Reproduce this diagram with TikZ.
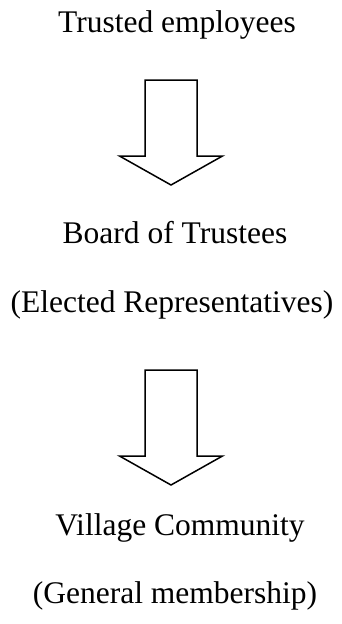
\documentclass[tikz,border=0pt]{standalone}
\usepackage{fontspec}
\setmainfont{Liberation Serif}
\usetikzlibrary{positioning}
\tikzstyle{lbl}=[anchor=base, inner sep=0pt, font=\fontsize{31.5}{37}\selectfont]
\tikzstyle{blk} = [draw, line width=1.5pt, line join=miter]
% block arrow pointing down: shaft 52 wide, head 103 wide and 29 long
\newcommand{\downblock}[2]{%
    \draw[blk] (#1) ++(-26,0) -- ++(0,#2) -- ++(-25.5,0) -- ++(51.5,29)
        -- ++(51.5,-29) -- ++(-25.5,0) -- ++(0,-#2) -- cycle;}

\begin{document}
\begin{tikzpicture}[x=1pt, y=-1pt]
    \useasboundingbox (0,0) rectangle (342,624);
    \node [lbl](trusted) at (177,32) {Trusted employees};
    \coordinate (down1) at (171,80);
    \downblock{down1}{76}
    \node [lbl](board) at (175,243) {Board of Trustees};
    \node [lbl](elected) at (172,312) {(Elected Representatives)};
    \coordinate (down2) at (171,370);
    \downblock{down2}{86}
    \node [lbl](village) at (180,535) {Village Community};
    \node [lbl](general) at (175,603) {(General membership)};
\end{tikzpicture}
\end{document}
